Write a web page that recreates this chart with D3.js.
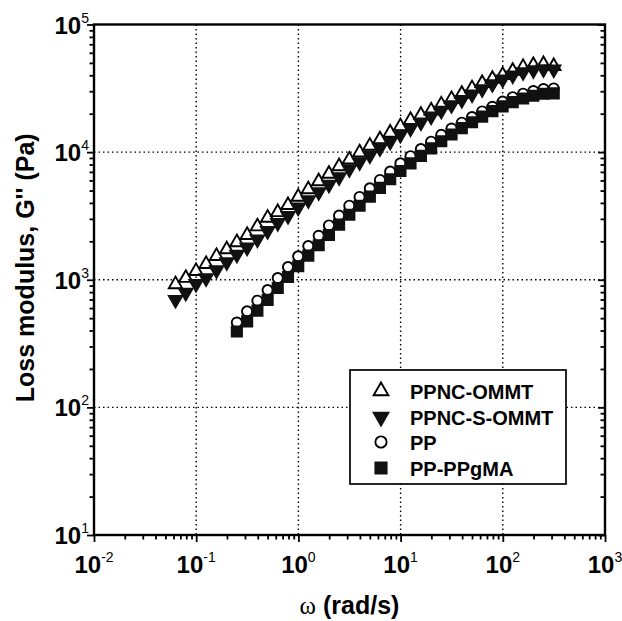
<!DOCTYPE html>
<html>
<head>
<meta charset="utf-8">
<script src="https://cdn.jsdelivr.net/npm/d3@7"></script>
<style>
  body { margin: 0; background: #fff; }
  text { font-family: "Liberation Sans", Arial, Helvetica, sans-serif; }
</style>
</head>
<body>
<svg width="622" height="621"></svg>
<script>
// frequency points (rad/s), 10 per decade
const omega = [0.0628, 0.0791, 0.0996, 0.125, 0.158, 0.199, 0.250, 0.315, 0.397, 0.500,
    0.628, 0.791, 0.996, 1.25, 1.58, 1.99, 2.50, 3.15, 3.97, 5.00,
    6.28, 7.91, 9.96, 12.5, 15.8, 19.9, 25.0, 31.5, 39.7, 50.0,
    62.8, 79.1, 99.6, 125, 158, 199, 250, 315];
// PP series start at 0.25 rad/s
const omegaPP = omega.slice(6);

const ppncOmmt = [937, 1050, 1190, 1350, 1560, 1760, 2000, 2280, 2660, 3110,
    3440, 3910, 4540, 5200, 6000, 6870, 7880, 8890, 10100, 11400,
    12800, 14450, 16200, 18150, 19900, 21550, 24000, 26500, 29100, 32150,
    35300, 38100, 40900, 44000, 47200, 48900, 49700, 48000];
const ppncSOmmt = [685, 778, 912, 1010, 1170, 1350, 1545, 1760, 2040, 2370,
    2740, 3110, 3620, 4140, 4780, 5470, 6270, 7230, 8220, 9280,
    10550, 11900, 13450, 15100, 16800, 18700, 20800, 23000, 25200, 27900,
    30600, 33600, 36500, 39300, 41600, 43100, 44000, 43700];
const pp = [462, 565, 685, 830, 1030, 1256, 1524, 1835, 2210, 2660,
    3180, 3800, 4450, 5200, 6050, 7030, 8160, 9280, 10550, 12070,
    13640, 15300, 17000, 18800, 20800, 22650, 24850, 26900, 28700, 30100,
    31200, 31500];
const ppPpgma = [393, 472, 573, 695, 861, 1051, 1275, 1545, 1862, 2240,
    2700, 3230, 3800, 4480, 5240, 6130, 7120, 8160, 9350, 10700,
    12170, 13740, 15400, 17140, 18950, 20940, 22800, 24650, 26300, 27650,
    28650, 28850];

const seriesNames = ["PPNC-OMMT", "PPNC-S-OMMT", "PP", "PP-PPgMA"];
const xDecades = [-2, -1, 0, 1, 2, 3];
const yDecades = [1, 2, 3, 4, 5];

const margin = { top: 24.5, right: 17, bottom: 86, left: 94 };
const width = 622 - margin.left - margin.right;
const height = 621 - margin.top - margin.bottom;

const svg = d3.select('svg');
const chart = svg.append('g')
    .attr('transform', 'translate(' + margin.left + ',' + margin.top + ')');

const x = d3.scaleLog().domain([0.01, 1000]).range([0, width]);
const y = d3.scaleLog().domain([10, 100000]).range([height, 0]);

// dotted grid at decades
chart.append('g').selectAll('line')
    .data(xDecades.slice(1, -1)).enter()
    .append('line')
    .attr('x1', d => x(Math.pow(10, d))).attr('x2', d => x(Math.pow(10, d)))
    .attr('y1', 0).attr('y2', height)
    .attr('stroke', '#000').attr('stroke-width', 1.4)
    .attr('stroke-dasharray', '1.5,3');
chart.append('g').selectAll('line')
    .data(yDecades.slice(1, -1)).enter()
    .append('line')
    .attr('y1', d => y(Math.pow(10, d))).attr('y2', d => y(Math.pow(10, d)))
    .attr('x1', 0).attr('x2', width)
    .attr('stroke', '#000').attr('stroke-width', 1.4)
    .attr('stroke-dasharray', '1.5,3');

function isMajor(v) {
    return Math.abs(Math.log10(v) - Math.round(Math.log10(v))) < 1e-6;
}

// bottom ticks (outward)
const xAxis = d3.axisBottom(x).ticks(10).tickFormat('').tickSizeOuter(0);
const gx = chart.append('g').attr('transform', 'translate(0,' + height + ')').call(xAxis);
gx.select('.domain').remove();
gx.selectAll('.tick line').attr('stroke-width', 1.8).attr('y2', d => isMajor(d) ? 7 : 4.5);

// left ticks (outward)
const yAxis = d3.axisLeft(y).ticks(10).tickFormat('').tickSizeOuter(0);
const gy = chart.append('g').call(yAxis);
gy.select('.domain').remove();
gy.selectAll('.tick line').attr('stroke-width', 1.8).attr('x2', d => isMajor(d) ? -7 : -4.5);

// right ticks (inward)
const yAxisR = d3.axisRight(y).ticks(10).tickFormat('').tickSizeOuter(0);
const gyr = chart.append('g').attr('transform', 'translate(' + width + ',0)').call(yAxisR);
gyr.select('.domain').remove();
gyr.selectAll('.tick line').attr('stroke-width', 1.8).attr('x2', d => isMajor(d) ? -7 : -4.5);

// frame
chart.append('rect')
    .attr('width', width).attr('height', height)
    .attr('fill', 'none').attr('stroke', '#000').attr('stroke-width', 2.4);

// tick labels
const xl = chart.append('g').selectAll('text')
    .data(xDecades).enter()
    .append('text')
    .attr('x', d => x(Math.pow(10, d)))
    .attr('y', height + 38)
    .attr('text-anchor', 'middle')
    .attr('font-weight', 'bold')
    .attr('font-size', 24);
xl.append('tspan').text('10');
xl.append('tspan').text(d => d).attr('font-size', 14).attr('font-weight', 'normal').attr('dy', -11);

const yl = chart.append('g').selectAll('text')
    .data(yDecades).enter()
    .append('text')
    .attr('x', -5)
    .attr('y', d => y(Math.pow(10, d)) + 9)
    .attr('text-anchor', 'end')
    .attr('font-weight', 'bold')
    .attr('font-size', 24);
yl.append('tspan').text('10');
yl.append('tspan').text(d => d).attr('font-size', 14).attr('font-weight', 'normal').attr('dy', -11);

// axis titles
svg.append('text')
    .attr('transform', 'translate(34,' + (margin.top + y(1000) - 12) + ') rotate(-90)')
    .attr('text-anchor', 'middle')
    .attr('font-weight', 'bold')
    .attr('font-size', 25)
    .text("Loss modulus, G'' (Pa)");

const xt = svg.append('text')
    .attr('x', margin.left + width / 2)
    .attr('y', 614)
    .attr('text-anchor', 'middle')
    .attr('font-weight', 'bold')
    .attr('font-size', 25);
xt.append('tspan').text('ω').attr('font-family', '"Liberation Serif", "DejaVu Serif", serif').attr('font-weight', 'normal');
xt.append('tspan').text(' (rad/s)');

// markers
const triUp = d3.symbol().type(d3.symbolTriangle).size(78);
const circ = d3.symbol().type(d3.symbolCircle).size(82);
const sq = d3.symbol().type(d3.symbolSquare).size(105);

function pts(xs, ys) {
    return xs.map((v, i) => ({ w: v, g: ys[i] }));
}

const markerDefs = [
    { data: pts(omega, ppncOmmt), path: triUp(), rot: 0, fill: '#fff', stroke: '#000', dy: 1 },
    { data: pts(omega, ppncSOmmt), path: triUp(), rot: 180, fill: '#111', stroke: '#111', dy: -1 },
    { data: pts(omegaPP, pp), path: circ(), rot: 0, fill: '#fff', stroke: '#000', dy: 0 },
    { data: pts(omegaPP, ppPpgma), path: sq(), rot: 0, fill: '#111', stroke: '#111', dy: 0 }
];

markerDefs.forEach(m => {
    chart.append('g').selectAll('path')
        .data(m.data).enter()
        .append('path')
        .attr('d', m.path)
        .attr('transform', d => 'translate(' + x(d.w) + ',' + (y(d.g) + m.dy) + ') rotate(' + m.rot + ')')
        .attr('fill', m.fill)
        .attr('stroke', m.stroke)
        .attr('stroke-width', 1.9);
});

// legend
const lg = svg.append('g').attr('transform', 'translate(350,370)');
lg.append('rect')
    .attr('width', 216).attr('height', 114)
    .attr('fill', '#fff').attr('stroke', '#000').attr('stroke-width', 1.7);
const rowY = [22, 48, 73, 99];
seriesNames.forEach((name, i) => {
    const m = markerDefs[i];
    lg.append('path')
        .attr('d', m.path)
        .attr('transform', 'translate(31,' + (rowY[i] - 1) + ') rotate(' + m.rot + ') scale(1.1)')
        .attr('fill', m.fill).attr('stroke', m.stroke).attr('stroke-width', 1.7);
    lg.append('text')
        .attr('x', 60).attr('y', rowY[i] + 7)
        .attr('font-weight', 'bold')
        .attr('font-size', 20)
        .text(name);
});
</script>
</body>
</html>
